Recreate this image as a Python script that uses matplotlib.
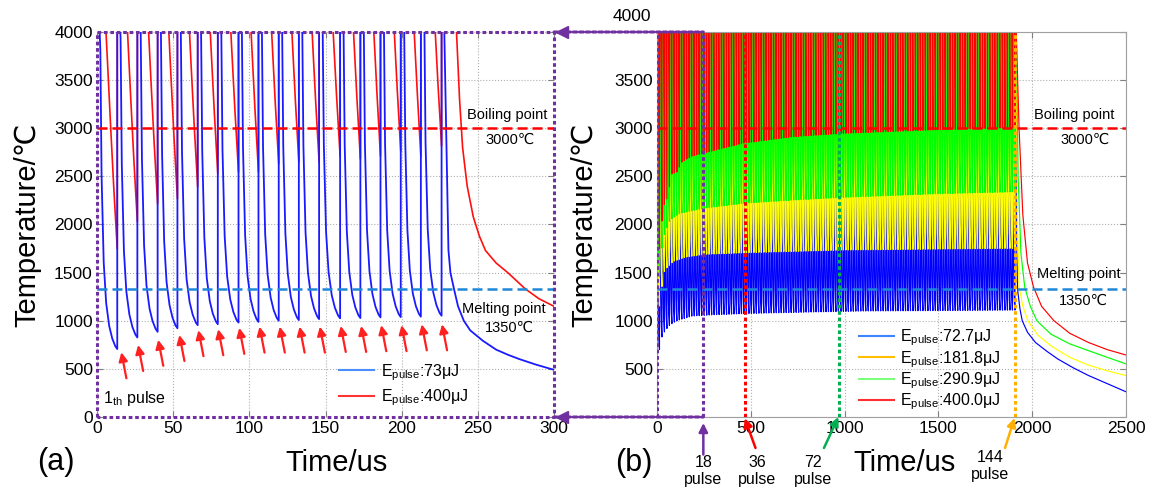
import numpy as np
import matplotlib
matplotlib.use("Agg")
import matplotlib.pyplot as plt
from matplotlib.patches import ConnectionPatch
from matplotlib.lines import Line2D

plt.rcParams['font.family'] = ['Liberation Sans', 'DejaVu Sans']
plt.rcParams['mathtext.fontset'] = 'custom'
plt.rcParams['mathtext.rm'] = 'Liberation Sans'
plt.rcParams['mathtext.it'] = 'Liberation Sans:italic'

# ---------------- panel (a) data ----------------
a_min_t = [13.3, 26.5, 39.8, 52.8, 66.1, 79.3, 92.9, 106.0, 119.3, 132.5,
           145.8, 159.6, 172.9, 186.1, 199.4, 212.6, 226.2]
a_blue_min = [706, 826, 885, 922, 954, 964, 981, 988, 1000, 1007,
              1017, 1025, 1028, 1035, 1038, 1042, 1052]
a_red_min = [1745, 2026, 2213, 2265, 2390, 2525, 2545, 2545, 2630, 2650,
             2650, 2710, 2680, 2710, 2760, 2710, 2815]
a_blue_tail_t = [228.0, 230.7, 232.0, 234.5, 237.0, 240.8, 245.0, 253.3, 262.0, 270.0, 277.0, 288.0, 300.0]
a_blue_tail_T = [4000, 1735, 1500, 1320, 1150, 1000, 900, 792, 700, 645, 603, 545, 490]
a_red_tail_t = [236.0, 238.0, 240.0, 243.0, 247.0, 251.0, 255.0, 262.0, 270.0, 281.0, 290.0, 300.0]
a_red_tail_T = [4000, 3300, 2800, 2400, 2080, 1880, 1730, 1600, 1495, 1333, 1230, 1150]
# arrow tips pointing at each pulse
arrow_t = [16.0, 27.0, 40.2, 54.1, 66.6, 79.6, 93.4, 106.7, 120.0, 133.0,
           146.3, 160.0, 173.4, 186.6, 199.9, 213.2, 226.5]
arrow_T = [672, 748, 802, 852, 902, 912, 926, 939, 939, 939,
           939, 946, 946, 954, 954, 963, 963]

# decay shapes read from single pulses (time after pulse, temperature above next minimum)
blue_dt = [0, 1.5, 2.2, 3.0, 4.4, 6.0, 8.0, 10.0, 12.0, 13.3]
blue_ex = [3600, 3400, 3100, 1800, 900, 480, 240, 110, 30, 0]
yel_ex = [3200, 3000, 2700, 1900, 1100, 650, 350, 160, 50, 0]
grn_ex = [2800, 2650, 2450, 1850, 1200, 760, 420, 200, 60, 0]
red_dt = [0, 5.9, 6.8, 8.9, 11.0, 13.3]
red_ex = [4500, 2255, 1974, 1290, 640, 0]

# ---------------- panel (b) data ----------------
b_period = 13.25
b_npulse = 144
env_blue_t = [13, 26, 40, 53, 66, 86, 120, 187, 300, 489, 800, 1092, 1500, 1908]
env_blue_T = [700, 830, 885, 920, 950, 980, 1010, 1049, 1062, 1076, 1090, 1101, 1106, 1111]
env_yel_t = [13, 26, 41, 86, 150, 250, 489, 1000, 1500, 1908]
env_yel_T = [1150, 1350, 1527, 1616, 1660, 1690, 1708, 1735, 1745, 1753]
env_grn_t = [13, 26, 40, 69, 122, 245, 459, 725, 991, 1500, 1908]
env_grn_T = [1450, 1750, 1900, 2047, 2117, 2168, 2220, 2254, 2282, 2320, 2340]
env_red_t = [13, 26, 40, 53, 66, 79, 106, 133, 186, 245, 459, 725, 991, 1500, 1908]
env_red_T = [1745, 2030, 2210, 2265, 2390, 2525, 2545, 2650, 2710, 2740, 2844, 2912, 2947, 2985, 3006]

tail_blue_t = [1911, 1918, 1922, 1935, 1947, 1975, 2017, 2080, 2137, 2220, 2299, 2400, 2500]
tail_blue_T = [4000, 1700, 1324, 1120, 1000, 880, 775, 680, 602, 510, 432, 346, 262]
tail_yel_t = [1913, 1922, 1930, 1950, 1977, 2030, 2100, 2200, 2299, 2400, 2500]
tail_yel_T = [4000, 2000, 1350, 1150, 1000, 850, 740, 620, 540, 480, 430]
tail_grn_t = [1915, 1925, 1940, 1960, 1990, 2025, 2100, 2200, 2299, 2400, 2500]
tail_grn_T = [4000, 2500, 1700, 1350, 1150, 1000, 860, 760, 690, 620, 552]
tail_red_t = [1915, 1930, 1950, 1975, 2007, 2050, 2116, 2200, 2299, 2400, 2500]
tail_red_T = [4000, 3000, 2100, 1600, 1350, 1150, 1000, 870, 775, 700, 644]

mark_t = [247, 469, 970, 1906]
mark_lab = ['18\npulse', '36\npulse', '72\npulse', '144\npulse']
mark_col = ['#7030a0', '#ff0000', '#00b050', '#ffb000']

boil_T = 3000
melt_T = 1325
TOP = 4600


def train(starts, ends, mins, dt, ex, tail_t, tail_T):
    xs, ys = [], []
    for s, e, m in zip(starts, ends, mins):
        k = (e - s) / dt[-1]
        xs += [s]
        ys += [TOP]
        xs += [s + d * k for d in dt]
        ys += [m + v for v in ex]
    xs += [ends[-1]] + list(tail_t)
    ys += [TOP] + list(tail_T)
    return xs, ys


fig = plt.figure(figsize=(11.51, 4.90), dpi=100)
axL = fig.add_axes([97 / 1151, 73 / 490, 457 / 1151, 385 / 490])
axR = fig.add_axes([657 / 1151, 73 / 490, 469 / 1151, 385 / 490])

# ---------------- (a) ----------------
starts = [0.0] + a_min_t[:-1]
xr, yr = train(starts, a_min_t, a_red_min, red_dt, red_ex, a_red_tail_t, a_red_tail_T)
xb, yb = train(starts, a_min_t, a_blue_min, blue_dt, blue_ex, a_blue_tail_t, a_blue_tail_T)
axL.plot(xr, yr, color='#ff1010', lw=1.2)
axL.plot(xb, yb, color='#1a1aff', lw=1.3)
axL.axhline(boil_T, color='#ff0000', lw=1.8, ls=(0, (4, 2)))
axL.axhline(melt_T, color='#1e88d8', lw=1.8, ls=(0, (4, 2)))

for t, T in zip(arrow_t, arrow_T):
    axL.annotate('', xy=(t, T), xytext=(t + 3.3, T - 270),
                 arrowprops=dict(arrowstyle='-|>', color='#ff2020', lw=1.6,
                                 mutation_scale=13, shrinkA=0, shrinkB=0))

axL.text(4, 95, r'1$_{\mathrm{th}}$ pulse', fontsize=11.5, va='bottom')
axL.text(269, 3140, 'Boiling point', fontsize=10.5, ha='center', va='center')
axL.text(271, 2878, '3000\u2103', fontsize=10.5, ha='center', va='center')
axL.text(267, 1118, 'Melting point', fontsize=10.5, ha='center', va='center')
axL.text(271, 925, '1350\u2103', fontsize=10.5, ha='center', va='center')

hl = [Line2D([], [], color='#4d8eff', lw=1.5), Line2D([], [], color='#ff3333', lw=1.5)]
axL.legend(hl, [r'E$_{\mathrm{pulse}}$:73μJ', r'E$_{\mathrm{pulse}}$:400μJ'],
           loc='upper left', bbox_to_anchor=(0.53, 0.143), frameon=False,
           fontsize=11.5, handlelength=2.2, handletextpad=0.4,
           labelspacing=0.3, borderaxespad=0, borderpad=0)

axL.set_xlim(0, 300)
axL.set_ylim(0, 4000)
axL.set_xticks(np.arange(0, 301, 50))
axL.set_yticks(np.arange(0, 4001, 500))

# ---------------- (b) ----------------
b_starts = np.arange(b_npulse) * b_period
b_ends = b_starts + b_period
series = [
    (env_blue_t, env_blue_T, blue_dt, blue_ex, tail_blue_t, tail_blue_T, '#0000ff'),
    (env_yel_t, env_yel_T, blue_dt, yel_ex, tail_yel_t, tail_yel_T, '#ffff00'),
    (env_grn_t, env_grn_T, blue_dt, grn_ex, tail_grn_t, tail_grn_T, '#00ff00'),
    (env_red_t, env_red_T, red_dt, red_ex, tail_red_t, tail_red_T, '#ff0000'),
]
for et, eT, dt, ex, tt, tT, c in series:
    mins = np.interp(b_ends, et, eT)
    x, y = train(b_starts, b_ends, mins, dt, ex, tt, tT)
    axR.plot(x, y, color=c, lw=0.85)

axR.axhline(boil_T, color='#ff0000', lw=1.8, ls=(0, (4, 2)))
axR.axhline(melt_T, color='#1e88d8', lw=1.8, ls=(0, (4, 2)))

axR.text(2223, 3140, 'Boiling point', fontsize=10.5, ha='center', va='center')
axR.text(2281, 2878, '3000\u2103', fontsize=10.5, ha='center', va='center')
axR.text(2249, 1486, 'Melting point', fontsize=10.5, ha='center', va='center')
axR.text(2271, 1205, '1350\u2103', fontsize=10.5, ha='center', va='center')

hr = [Line2D([], [], color=c, lw=1.5) for c in ['#3d85ff', '#ffc000', '#7dff7d', '#ff3030']]
axR.legend(hr, [r'E$_{\mathrm{pulse}}$:72.7μJ', r'E$_{\mathrm{pulse}}$:181.8μJ',
                r'E$_{\mathrm{pulse}}$:290.9μJ', r'E$_{\mathrm{pulse}}$:400.0μJ'],
           loc='upper left', bbox_to_anchor=(0.43, 0.232), frameon=False,
           fontsize=11.5, handlelength=2.2, handletextpad=0.4,
           labelspacing=0.05, borderaxespad=0, borderpad=0)

# marker lines at 18 / 36 / 72 / 144 pulses
for t, lab, c in zip(mark_t, mark_lab, mark_col):
    axR.axvline(t, color=c, lw=2.2, ls=(0, (1.2, 0.9)), zorder=5)
axR.axvline(0, color='#7030a0', lw=2.2, ls=(0, (1.2, 0.9)), zorder=5)

arr_tail = [(247, -390), (525, -322), (890, -322), (1855, -322)]
arr_tip = [(247, -62), (468, -13), (967, 0), (1906, -10)]
lab_pos = [(247, -560), (533, -560), (831, -560), (1775, -510)]
for (tx, ty), (hx, hy), (lx, ly), lab, c in zip(arr_tail, arr_tip, lab_pos, mark_lab, mark_col):
    axR.annotate('', xy=(hx, hy), xytext=(tx, ty), annotation_clip=False,
                 arrowprops=dict(arrowstyle='-|>', color=c, lw=1.8,
                                 mutation_scale=13, shrinkA=0, shrinkB=0))
    axR.text(lx, ly, lab, ha='center', va='center', fontsize=11.5,
             linespacing=1.15, clip_on=False)

axR.set_xlim(0, 2500)
axR.set_ylim(0, 4000)
axR.set_xticks(np.arange(0, 2501, 500))
axR.set_yticks(np.arange(0, 4001, 500))
axR.set_yticklabels([''] + [str(v) for v in range(500, 4000, 500)] + [''])
axR.annotate('4000', xy=(0, 4000), xycoords=('axes fraction', 'data'),
             xytext=(-4, 11), textcoords='offset points', ha='right',
             va='center', fontsize=12.5)

for ax in (axL, axR):
    ax.grid(True, ls=':', color='#b0b0b0', lw=0.8)
    ax.tick_params(direction='in', top=True, right=True, length=4,
                   color='#808080', labelsize=12.5, pad=3)
    for sp in ax.spines.values():
        sp.set_color('#a0a0a0')

for sp in axL.spines.values():
    sp.set_visible(False)

# purple dotted frame of (a) and the zoom connectors
pur = '#7030a0'
axL.plot([0, 0, 1, 1, 0], [0, 1, 1, 0, 0], transform=axL.transAxes,
         color=pur, lw=2.2, ls=(0, (1.2, 0.9)), clip_on=False, zorder=6)
for T in (4000, 0):
    con = ConnectionPatch(xyA=(300, T), coordsA=axL.transData,
                          xyB=(247, T), coordsB=axR.transData,
                          color=pur, lw=2.2, ls=(0, (1.2, 0.9)), zorder=6)
    fig.add_artist(con)
    axL.plot([305.5], [T], marker='<', ms=9, color=pur, clip_on=False, zorder=7)

fig.text(27 / 1151, 1 - 224.5 / 490, 'Temperature/\u2103', rotation=90,
         ha='center', va='center', fontsize=21)
fig.text(584 / 1151, 1 - 224.5 / 490, 'Temperature/\u2103', rotation=90,
         ha='center', va='center', fontsize=21)
fig.text(336 / 1151, 1 - 463 / 490, 'Time/us', ha='center', va='center', fontsize=21)
fig.text(905 / 1151, 1 - 463 / 490, 'Time/us', ha='center', va='center', fontsize=21)
fig.text(56 / 1151, 1 - 462 / 490, '(a)', ha='center', va='center', fontsize=22)
fig.text(634 / 1151, 1 - 463 / 490, '(b)', ha='center', va='center', fontsize=22)

fig.savefig('out.png', dpi=100)
